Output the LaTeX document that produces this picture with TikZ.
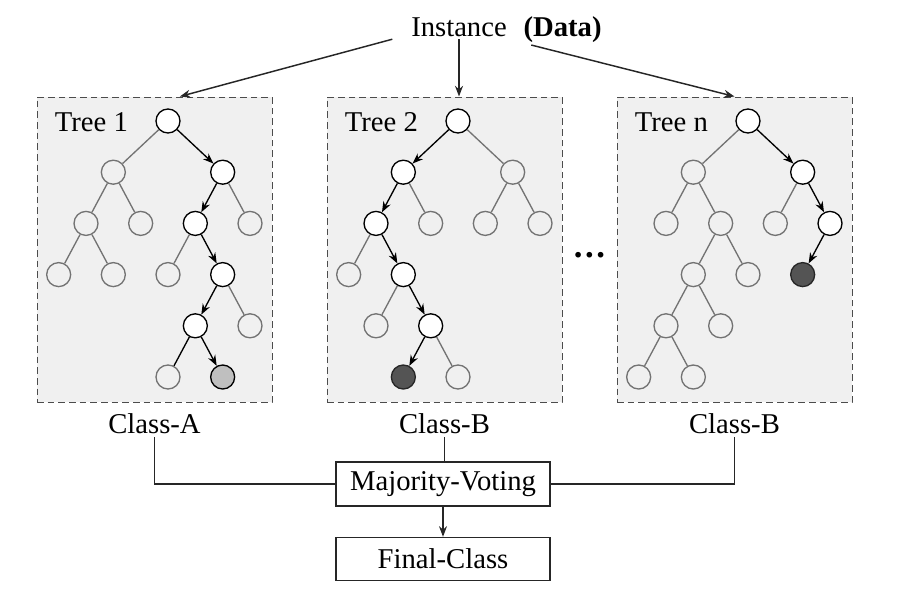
\documentclass[tikz,border=0pt]{standalone}
\usepackage{fontspec}
\setmainfont{Liberation Serif}
\usetikzlibrary{arrows.meta,positioning}

\tikzset{
  txt/.style={font=\fontsize{21.5}{26}\selectfont, inner sep=2pt},
  treebox/.style={draw=black!70, line width=0.75pt, dash pattern=on 5pt off 3pt,
    fill=black!6, minimum width=176.25pt, minimum height=228.75pt, inner sep=0pt},
  nd/.style={circle, on grid, line width=1pt, minimum size=18pt, inner sep=0pt},
  hot/.style={nd, draw=black, fill=white},
  cold/.style={nd, draw=black!55},
  leafA/.style={nd, draw=black, fill=black!25},
  leafB/.style={nd, draw=black!85, fill=black!67},
  hotedge/.style={->, draw=black, line width=1pt},
  coldedge/.style={draw=black!55, line width=1pt},
  wire/.style={draw=black!85, line width=1.1pt},
  vote/.style={txt, draw=black!85, line width=0.8pt, minimum width=160.5pt, minimum height=33pt},
}

\begin{document}
\begin{tikzpicture}[x=0.75pt,y=-0.75pt,>={Stealth[length=8pt,width=6pt]},
        node distance=38.4pt and 20.5pt]

  \useasboundingbox (0,0) rectangle (900,593);

  \node[treebox] (box1) at (154.5,249.5) {};
  \node[treebox] (box2) at (444.5,249.5) {};
  \node[treebox] (boxn) at (734.5,249.5) {};

  \node[txt,anchor=west] (l1) at (52,122) {Tree 1};
  \node[txt,anchor=west] (l2) at (342,122) {Tree 2};
  \node[txt,anchor=west] (ln) at (632,122) {Tree n};

  % tree 1
  \node[hot] (a) at (168,121) {};
  \node[cold] (a1) [below left=38.4pt and 41pt of a] {};
  \node[hot] (a2) [below right=38.4pt and 41pt of a] {};
  \node[cold] (a11) [below left=of a1] {};
  \node[cold] (a12) [below right=of a1] {};
  \node[cold] (a111) [below left=of a11] {};
  \node[cold] (a112) [below right=of a11] {};
  \node[hot] (a21) [below left=of a2] {};
  \node[cold] (a22) [below right=of a2] {};
  \node[cold] (a211) [below left=of a21] {};
  \node[hot] (a212) [below right=of a21] {};
  \node[hot] (a2121) [below left=of a212] {};
  \node[cold] (a2122) [below right=of a212] {};
  \node[cold] (a21211) [below left=of a2121] {};
  \node[leafA] (a21212) [below right=of a2121] {};

  \path[coldedge] (a) edge (a1)
        (a1) edge (a11)  (a1) edge (a12)
        (a11) edge (a111)  (a11) edge (a112)
        (a2) edge (a22)  (a21) edge (a211)
        (a212) edge (a2122);
  \draw[line width=1pt] (a2121) -- (a21211);
  \path[hotedge] (a) edge (a2)
        (a2) edge (a21)
        (a21) edge (a212)
        (a212) edge (a2121)
        (a2121) edge (a21212);

  % tree 2
  \node[hot] (b) at (458,121) {};
  \node[hot] (b1) [below left=38.4pt and 41pt of b] {};
  \node[cold] (b2) [below right=38.4pt and 41pt of b] {};
  \node[hot] (b11) [below left=of b1] {};
  \node[cold] (b12) [below right=of b1] {};
  \node[cold] (b21) [below left=of b2] {};
  \node[cold] (b22) [below right=of b2] {};
  \node[cold] (b111) [below left=of b11] {};
  \node[hot] (b112) [below right=of b11] {};
  \node[cold] (b1121) [below left=of b112] {};
  \node[hot] (b1122) [below right=of b112] {};
  \node[leafB] (b11221) [below left=of b1122] {};
  \node[cold] (b11222) [below right=of b1122] {};

  \path[coldedge] (b) edge (b2)
        (b1) edge (b12)
        (b2) edge (b21)  (b2) edge (b22)
        (b11) edge (b111)
        (b112) edge (b1121)
        (b1122) edge (b11222);
  \path[hotedge] (b) edge (b1)
        (b1) edge (b11)
        (b11) edge (b112)
        (b112) edge (b1122)
        (b1122) edge (b11221);

  % tree n
  \node[hot] (c) at (748,121) {};
  \node[cold] (c1) [below left=38.4pt and 41pt of c] {};
  \node[hot] (c2) [below right=38.4pt and 41pt of c] {};
  \node[cold] (c11) [below left=of c1] {};
  \node[cold] (c12) [below right=of c1] {};
  \node[cold] (c21) [below left=of c2] {};
  \node[hot] (c22) [below right=of c2] {};
  \node[cold] (c121) [below left=of c12] {};
  \node[cold] (c122) [below right=of c12] {};
  \node[leafB] (c221) [below left=of c22] {};
  \node[cold] (c1211) [below left=of c121] {};
  \node[cold] (c1212) [below right=of c121] {};
  \node[cold] (c12111) [below left=of c1211] {};
  \node[cold] (c12112) [below right=of c1211] {};

  \path[coldedge] (c) edge (c1)
        (c1) edge (c11)  (c1) edge (c12)
        (c12) edge (c121)  (c12) edge (c122)
        (c121) edge (c1211)  (c121) edge (c1212)
        (c1211) edge (c12111)  (c1211) edge (c12112)
        (c2) edge (c21);
  \path[hotedge] (c) edge (c2)
        (c2) edge (c22)
        (c22) edge (c221);

  \node[font=\fontsize{26}{26}\selectfont\bfseries,anchor=base,inner sep=0pt] (dots)
        at (589.5,257) {.\kern2pt.\kern2pt.};

  % input
  \node[txt,anchor=base] (inst) at (459,36) {Instance};
  \node[txt,font=\fontsize{21.5}{26}\selectfont\bfseries] (data)
        [base right=8.2pt of inst] {(Data)};

  \draw[wire,->] ([xshift=-12pt]inst.south west) -- ([xshift=19pt]box1.north);
  \draw[wire,->] (inst) -- (inst |- box2.north);
  \draw[wire,->] ([xshift=8pt]data.south west) -- (boxn.north);

  % voting
  \node[txt] (ca) at (154.5,424) {Class-A};
  \node[txt] (cb) at (444.5,424) {Class-B};
  \node[txt] (cn) at (734.5,424) {Class-B};

  \node[vote] (mv) at (443,484) {Majority-Voting};
  \node[vote,minimum height=32.25pt] (fc) [below=22.7pt of mv] {Final-Class};

  \draw[wire] (ca.south) |- (mv.west);
  \draw[wire] (cb.south) -- (cb.south |- mv.north);
  \draw[wire] (cn.south) |- (mv.east);
  \draw[wire,->] (mv) -- (fc);

\end{tikzpicture}
\end{document}
